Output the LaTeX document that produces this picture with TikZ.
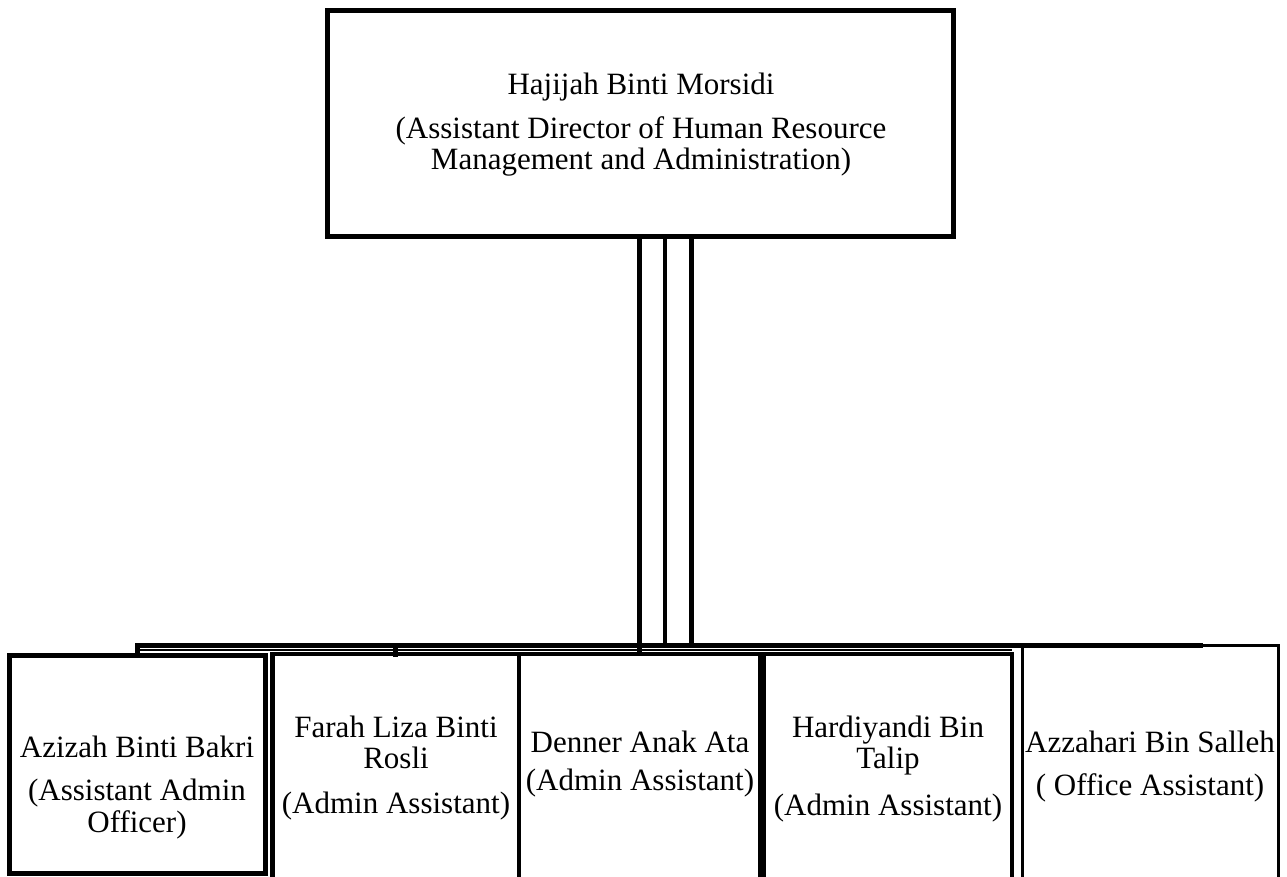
\documentclass[tikz,border=0pt]{standalone}
\usepackage{fontspec}
\setmainfont{Liberation Serif}
\begin{document}
\begin{tikzpicture}[x=1pt,y=-1pt,
  box/.style={draw=black, line width=4.5pt, inner sep=0pt, outer sep=0pt},
  vline/.style={draw=black, line width=4.5pt},
  busline/.style={draw=black, line width=5pt, line cap=rect},
  thinline/.style={draw=black, line width=2pt},
  lbl/.style={font=\fontsize{31}{36}\selectfont, inner sep=0pt, outer sep=0pt, anchor=base}]
\useasboundingbox (0,0) rectangle (1287,876);
\fill[white] (0,0) rectangle (1287,876);
\clip (0,0) rectangle (1287,876);

% boxes
\node[box, line width=5pt, minimum width=625.8pt, minimum height=225.2pt] (T) at (640.4,123.4) {};
\node[box, line width=5pt, minimum width=256.5pt, minimum height=218pt] (A) at (137.25,764) {};
\node[box, minimum width=246.5pt, minimum height=246pt] (F) at (395.75,777) {};
\node[box, minimum width=241pt, minimum height=246pt] (D) at (639.5,777) {};
\node[box, minimum width=248pt, minimum height=246pt] (H) at (888,777) {};
\node[box, line width=3.5pt, minimum width=256pt, minimum height=254.5pt] (Z) at (1150.5,772.75) {};

% connectors
\coordinate (busR) at (1200,645.5);
\coordinate (v2) at (665,645.5);
\coordinate (v3) at (691.5,645.5);
\coordinate (thinL) at (140,649.5);
\draw[vline] (D.north |- T.south) -- (D.north);
\draw[vline] (v2 |- T.south) -- (v2);
\draw[vline] (v3 |- T.south) -- (v3);
\draw[busline] (A.north) |- (busR);
\draw[busline] (F.north) -- (F.north |- busR);
\draw[thinline] (thinL) -- (thinL -| H.east);

% texts
\node[lbl] (t1) at (641,94) {Hajijah Binti Morsidi};
\node[lbl] (t2) at (641,138) {(Assistant Director of Human Resource};
\node[lbl] (t3) at (641,169) {Management and Administration)};

\node[lbl] (a1) at (137,757) {Azizah Binti Bakri};
\node[lbl] (a2) at (137,800) {(Assistant Admin};
\node[lbl] (a3) at (137,832) {Officer)};

\node[lbl] (f1) at (396,737) {Farah Liza Binti};
\node[lbl] (f2) at (396,768) {Rosli};
\node[lbl] (f3) at (396,813) {(Admin Assistant)};

\node[lbl] (d1) at (640,752) {Denner Anak Ata};
\node[lbl] (d2) at (640,790) {(Admin Assistant)};

\node[lbl] (h1) at (888,737) {Hardiyandi Bin};
\node[lbl] (h2) at (888,768) {Talip};
\node[lbl] (h3) at (888,815) {(Admin Assistant)};

\node[lbl] (z1) at (1150,752) {Azzahari Bin Salleh};
\node[lbl] (z2) at (1150,795) {( Office Assistant)};
\end{tikzpicture}
\end{document}
